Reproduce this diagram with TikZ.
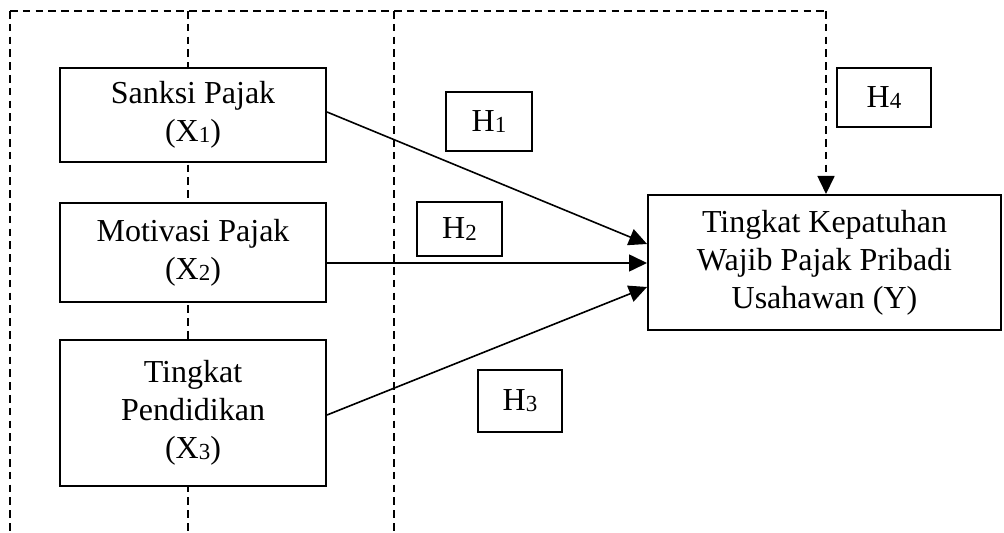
\documentclass[tikz,border=0pt]{standalone}
\usepackage{fontspec}
\setmainfont{Liberation Serif}
\usetikzlibrary{arrows.meta,calc}

% small, slightly lowered index digit
\newcommand\idx[1]{\raisebox{-0.6pt}{\fontsize{11.5}{12}\selectfont #1}}

\begin{document}
\begin{tikzpicture}[
  x=0.5pt, y=-0.5pt,
  font=\fontsize{16}{19}\selectfont,
  varbox/.style={draw, line width=1pt, fill=white, align=center, inner sep=0pt},
  hbox/.style={draw, line width=0.9pt, fill=white, inner sep=0pt},
  guide/.style={dash pattern=on 3.8pt off 2.6pt, line width=0.85pt},
  link/.style={line width=0.8pt, -{Triangle[length=9pt,width=8.5pt]}}
]
\useasboundingbox (0,0) rectangle (1004,533);

% dashed frame lines
\coordinate (tl) at (10,11);
\coordinate (bl) at (10,533);
\coordinate (tm) at (188,11);
\coordinate (bm) at (188,533);
\coordinate (tr2) at (394,11);
\coordinate (br2) at (394,533);
\coordinate (tr) at (826,11);

\draw[guide] (tl) -- (bl);
\draw[guide] (tm) -- (bm);
\draw[guide] (tr2) -- (br2);

% independent variables
\node[varbox, minimum width=133pt, minimum height=47pt] (X1) at (193,115)
  {Sanksi Pajak\\(X\idx{1})};
\node[varbox, minimum width=133pt, minimum height=49.5pt] (X2) at (193,252.5)
  {Motivasi Pajak\\(X\idx{2})};
\node[varbox, minimum width=133pt, minimum height=73pt] (X3) at (193,413)
  {Tingkat\\Pendidikan\\(X\idx{3})};

% dependent variable
\node[varbox, minimum width=176.5pt, minimum height=67.5pt] (Y) at (824.5,262.5)
  {Tingkat Kepatuhan\\Wajib Pajak Pribadi\\Usahawan (Y)};

% hypothesis labels
\node[hbox, minimum width=43pt, minimum height=29.5pt] (H1) at (489,121.5) {H\idx{1}};
\node[hbox, minimum width=42.5pt, minimum height=27pt] (H2) at (459.5,229) {H\idx{2}};
\node[hbox, minimum width=42pt, minimum height=31pt] (H3) at (520,401) {H\idx{3}};
\node[hbox, minimum width=47pt, minimum height=29.5pt] (H4) at (884,97.5) {H\idx{4}};

% partial effects
\draw[link] ($(X1.east)+(0,-3)$) -- ($(Y.west)+(0,-18.5)$);
\draw[link] ($(X2.east)+(0,10.5)$) -- ($(Y.west)+(0,0.5)$);
\draw[link] ($(X3.east)+(0,2)$) -- ($(Y.west)+(0,24.5)$);

% simultaneous effect
\draw[guide] (tl) -- (tr);
\draw[guide, -{Triangle[length=9pt,width=8.5pt]}] (tr) -- (tr |- Y.north);
\end{tikzpicture}
\end{document}
